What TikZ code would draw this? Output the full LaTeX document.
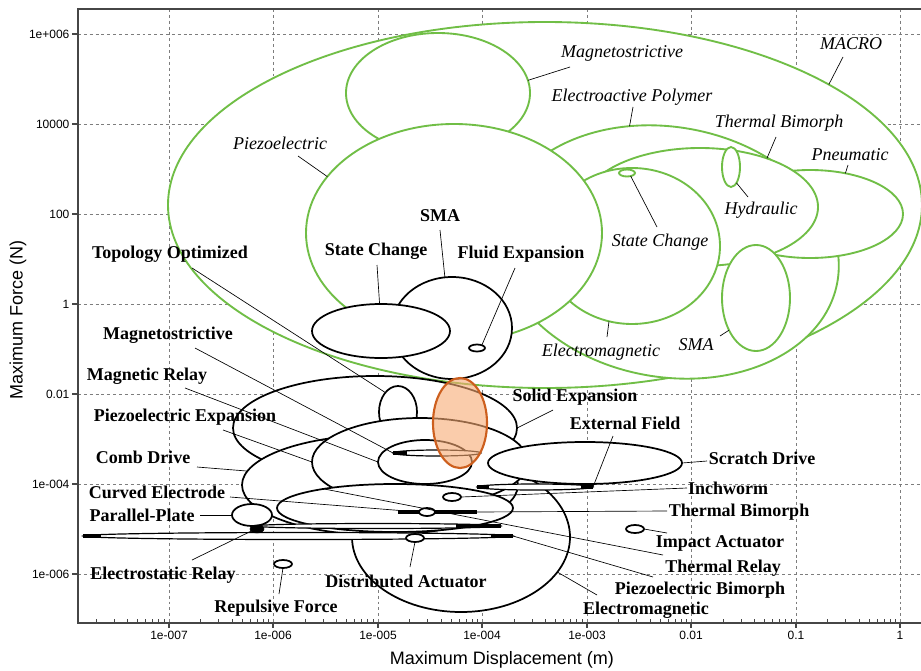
\documentclass[tikz,border=0pt]{standalone}
\usepackage{fontspec}
\setmainfont{Liberation Serif}
\setsansfont{Liberation Sans}
\usetikzlibrary{shapes.geometric}
\definecolor{macgreen}{RGB}{112,190,70}
\definecolor{gridgray}{RGB}{125,125,125}
\definecolor{axisgray}{RGB}{70,70,70}
\definecolor{peach}{RGB}{248,170,115}
\definecolor{rust}{RGB}{205,95,30}

\begin{document}
\begin{tikzpicture}
    [x=0.75pt, y=-0.75pt,
     ell/.style 2 args={ellipse, inner sep=0pt, outer sep=0pt, minimum width=#1*1.5pt, minimum height=#2*1.5pt},
     mac/.style={draw=macgreen, line width=1.4pt, fill=white},
     mic/.style={draw=black, line width=1.3pt, fill=white},
     thin/.style={draw=black, line width=0.9pt, fill=white},
     lead/.style={black, line width=0.5pt},
     maclbl/.style={font=\fontsize{13.5}{15}\selectfont\itshape, inner sep=0pt},
     miclbl/.style={font=\fontsize{13.5}{15}\selectfont\bfseries, inner sep=0pt},
     ticklbl/.style={font=\sffamily\fontsize{9}{10}\selectfont, inner sep=1pt},
     gridline/.style={gridgray, dash pattern=on 2.2pt off 2.2pt, line width=0.5pt}]
  \useasboundingbox (0,0) rectangle (921,671);
  \fill[white] (0,0) rectangle (921,671);

  \foreach \gx in {169,273,378,482,587,691,796,900}
    \draw[gridline] (\gx,9) -- (\gx,623);
  \foreach \gy in {34,124,214,304,394,484,574}
    \draw[gridline] (78,\gy) -- (921,\gy);

  \node[mac, ell={377}{183}] (macro) at (545,205) {};
  \node[mac, ell={172}{125}, rotate=-10] (eap) at (668,252) {};
  \node[mac, ell={93}{44}] (pneu) at (810,214) {};
  \node[mac, ell={118}{59}] (tbm) at (700,207) {};
  \node[mac, ell={92}{60}] (mstm) at (438,93) {};
  \node[mac, ell={88}{78}] (emm) at (632,246) {};
  \node[mac, ell={148}{109}] (pzm) at (454,233) {};
  \node[mac, ell={34}{53}] (smam) at (756,298) {};
  \node[mac, ell={9}{20}] (hyd) at (731,167) {};
  \node[mac, ell={8}{3.5}] (scm) at (627,173) {};

  \node[mic, ell={109}{75}] (emag) at (461,537) {};
  \node[mic, ell={142}{52}] (solid) at (375,428) {};
  \node[mic, ell={19}{26}] (topo) at (398,412) {};
  \node[mic, ell={138}{50}] (comb) at (380,485) {};
  \node[mic, ell={108}{44}] (pzexp) at (420,462) {};
  \node[mic, ell={47}{22}] (mrel) at (425,462) {};
  \node[mic, ell={118}{24}] (curved) at (395,508) {};
  \node[mic, ell={20}{11}] (ppl) at (252,515) {};
  \node[mic, ell={97}{21}] (scratch) at (585,463) {};
  \node[mic, ell={60}{51}] (sma) at (452,328) {};
  \node[mic, ell={69}{27}] (sc) at (381,331) {};
  \node[mic, ell={8}{3.5}] (fluid) at (477,348) {};

  \node[thin, ell={44}{3}] (mst) at (437,453) {};
  \node[thin, ell={58}{3}] (ext) at (535,487) {};
  \node[thin, ell={123}{2.5}] (estat) at (378,526) {};
  \node[thin, ell={215}{3.5}] (pzbim) at (298,536) {};
  \draw[line width=2.4pt] (mst.west) -- ++(14,0);
  \draw[line width=2.4pt] (ext.west) -- ++(12,0) (ext.east) -- ++(-12,0);
  \draw[line width=2.4pt] (estat.east) -- ++(-45,0);
  \draw[line width=2.8pt] (pzbim.west) -- ++(18,0) (pzbim.east) -- ++(-22,0);
  \coordinate (tbw) at (398,512);
  \coordinate (tbe) at (477,512);
  \draw[line width=2.4pt] (tbw) -- (tbe);
  \node[mic, ell={8}{4}] (tbim) at (427,512) {};
  \node[mic, ell={9}{4}] (inch) at (452,497) {};
  \node[mic, ell={9}{4}] (dist) at (415,538) {};
  \node[mic, ell={9}{4}] (rep) at (283,564) {};
  \node[mic, ell={9}{4}] (imp) at (635,529) {};
  \node[draw, fill=black, ell={7}{4}] (blob) at (257,529) {};

  \node[maclbl] (lMacro) at (851,44) {MACRO};
  \node[maclbl] (lMst) at (622,53) {Magnetostrictive};
  \node[maclbl] (lEap) at (632,97) {Electroactive Polymer};
  \node[maclbl] (lTbm) at (779,123) {Thermal Bimorph};
  \node[maclbl] (lPzm) at (280,143) {Piezoelectric};
  \node[maclbl] (lPneu) at (850,155) {Pneumatic};
  \node[maclbl] (lHyd) at (761,210) {Hydraulic};
  \node[maclbl] (lScm) at (660,242) {State Change};
  \node[maclbl] (lSmam) at (696,345) {SMA};
  \node[maclbl] (lEmm) at (601,352) {Electromagnetic};

  \node[miclbl] (lTopo) at (170,254) {Topology Optimized};
  \node[miclbl] (lSc) at (376,251) {State Change};
  \node[miclbl] (lSma) at (440,216) {SMA};
  \node[miclbl] (lFluid) at (521,254) {Fluid Expansion};
  \node[miclbl] (lMst) at (168,335) {Magnetostrictive};
  \node[miclbl] (lMrel) at (147,376) {Magnetic Relay};
  \node[miclbl] (lPzexp) at (185,417) {Piezoelectric Expansion};
  \node[miclbl] (lSolid) at (575,397) {Solid Expansion};
  \node[miclbl] (lExt) at (625,423) {External Field};
  \node[miclbl] (lComb) at (143,457) {Comb Drive};
  \node[miclbl] (lScratch) at (762,458) {Scratch Drive};
  \node[miclbl] (lCurved) at (157,492) {Curved Electrode};
  \node[miclbl] (lInch) at (728,488) {Inchworm};
  \node[miclbl] (lPpl) at (142,515) {Parallel-Plate};
  \node[miclbl] (lTbim) at (739,512) {Thermal Bimorph};
  \node[miclbl] (lImp) at (720,543) {Impact Actuator};
  \node[miclbl] (lEstat) at (163,575) {Electrostatic Relay};
  \node[miclbl] (lTrel) at (723,568) {Thermal Relay};
  \node[miclbl] (lDist) at (406,581) {Distributed Actuator};
  \node[miclbl] (lPzbim) at (700,590) {Piezoelectric Bimorph};
  \node[miclbl] (lRep) at (276,608) {Repulsive Force};
  \node[miclbl] (lEmag) at (646,610) {Electromagnetic};

  \coordinate (cMacro) at (843,57);
  \coordinate (cMstm) at (570,67);
  \coordinate (cEap) at (633,107);
  \coordinate (cTbm) at (776,137);
  \coordinate (cPneu) at (848,165);
  \coordinate (cPzm) at (298,156);
  \coordinate (cHyd) at (748,197);
  \coordinate (cScm) at (657,227);
  \coordinate (cSmam) at (720,336);
  \coordinate (cEmm) at (607,337);
  \foreach \from/\to in {cMacro/macro.23, cMstm/mstm.8, cEap/eap.117, cTbm/tbm.36, cPneu/pneu.49,
      cPzm/pzm.156, cHyd/hyd.289, cScm/scm.-40, cSmam/smam.230, cEmm/emm.253}
    \draw[lead] (\from) -- (\to);

  \coordinate (cTopo) at (192,268);
  \coordinate (cSma) at (440,230);
  \coordinate (cSc) at (377,265);
  \coordinate (cFluid) at (515,268);
  \coordinate (cMst) at (195,348);
  \coordinate (cMrel) at (185,388);
  \coordinate (cPzexp) at (223,430);
  \coordinate (cSolid) at (553,410);
  \coordinate (cExt) at (613,436);
  \coordinate (cComb) at (197,467);
  \coordinate (cScratch) at (707,461);
  \coordinate (cCurved) at (230,497);
  \coordinate (cInch) at (687,488);
  \coordinate (cPpl) at (200,515);
  \coordinate (cTbim) at (667,511);
  \coordinate (cImp) at (667,533);
  \coordinate (cEstat) at (192,560);
  \coordinate (cTrel) at (663,555);
  \coordinate (cDist) at (410,567);
  \coordinate (cPzbim) at (653,577);
  \coordinate (cRep) at (279,594);
  \coordinate (cEmag) at (597,595);
  \foreach \from/\to in {cTopo/topo.123, cSma/sma.98, cSc/sc.93, cFluid/fluid.30, cMst/mst.west,
      cMrel/mrel.west, cPzexp/pzexp.west, cSolid/solid.east, cExt/ext.east, cComb/comb.174,
      cScratch/scratch.east, cCurved/tbim.west, cInch/inch.east, cPpl/ppl.west, cTbim/tbe,
      cImp/imp.east, cEstat/blob.200, cTrel/curved.165, cDist/dist.south, cPzbim/pzbim.east,
      cRep/rep.south, cEmag/emag.340}
    \draw[lead] (\from) -- (\to);

  \node[ell={27}{45}, draw=rust, line width=1.6pt, fill=peach, fill opacity=0.6] (hl) at (460,423) {};

  \draw[axisgray, line width=1pt] (921,9) -- (78,9) -- (78,623) -- (921,623);
  \foreach \gy/\lab in {34/1e+006, 124/10000, 214/100, 304/1, 394/0.01, 484/1e-004, 574/1e-006} {
    \draw[axisgray, line width=0.8pt] (72,\gy) -- (78,\gy);
    \node[ticklbl, anchor=east] (yt\gy) at (71,\gy) {\lab};
  }
  \foreach \gx/\lab in {169/1e-007, 273/1e-006, 378/1e-005, 482/1e-004, 587/1e-003, 691/0.01, 796/0.1, 900/1} {
    \draw[axisgray, line width=0.8pt] (\gx,623) -- (\gx,628);
    \node[ticklbl, anchor=north] (xt\gx) at (\gx,630) {\lab};
  }
  \foreach \d in {0,...,7}
    \foreach \m in {2,...,9}
      \draw[axisgray, line width=0.6pt] ({64.5+104.5*\d+104.5*log10(\m)},623) -- ++(0,-4);

  \node[font=\sffamily\fontsize{13.5}{15}\selectfont, rotate=90] (ytitle) at (18,320) {Maximum Force (N)};
  \node[font=\sffamily\fontsize{13.5}{15}\selectfont] (xtitle) at (502,660) {Maximum Displacement (m)};
\end{tikzpicture}
\end{document}
